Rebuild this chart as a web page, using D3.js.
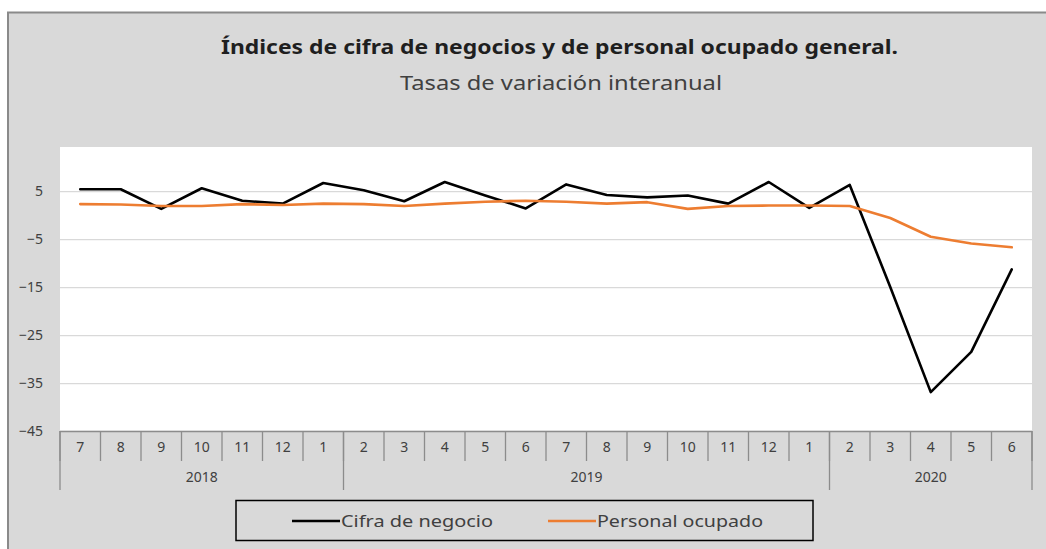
<!DOCTYPE html>
<html>
<head>
<meta charset="utf-8">
<script src="https://cdn.jsdelivr.net/npm/d3@7"></script>
<style>
  body { margin: 0; background: #fff; }
  svg { display: block; font-family: 'Noto Sans', 'DejaVu Sans', sans-serif; }
</style>
</head>
<body>
<div id="chart"></div>
<script>
// Category labels as printed under the plot (month, then year group)
const monthLabels = ['7', '8', '9', '10', '11', '12', '1', '2', '3', '4', '5', '6',
                     '7', '8', '9', '10', '11', '12', '1', '2', '3', '4', '5', '6'];
const yearLabels = ['2018', '2019', '2020'];
const yearSpans = [7, 12, 5];

// Series values (% interanual)
const cifraNegocio = [5.4, 5.4, 1.3, 5.6, 3.0, 2.4, 6.7, 5.2, 2.9, 6.9, 4.1, 1.4,
                      6.4, 4.2, 3.7, 4.1, 2.4, 6.9, 1.5, 6.3, -15.0, -36.9, -28.5, -11.3];
const personalOcupado = [2.3, 2.2, 1.9, 1.9, 2.3, 2.1, 2.4, 2.3, 1.9, 2.4, 2.8, 3.0,
                         2.8, 2.4, 2.7, 1.3, 1.9, 2.0, 2.0, 1.9, -0.6, -4.5, -5.9, -6.7];

const yTicks = [-45, -35, -25, -15, -5, 5];

const seriesNames = ['Cifra de negocio', 'Personal ocupado'];
const seriesColors = ['#000000', '#ed7d31'];

const width = 1046;
const height = 549;
const plot = { left: 60, right: 1032, top: 147, bottom: 431 };

const svg = d3.select('#chart').append('svg')
    .attr('width', width)
    .attr('height', height);

// chart area frame
svg.append('rect')
    .attr('x', 8)
    .attr('y', 12.5)
    .attr('width', width)
    .attr('height', height)
    .attr('fill', '#d9d9d9')
    .attr('stroke', '#8a8a8a')
    .attr('stroke-width', 2);

// Title
svg.append('text')
    .text('Índices de cifra de negocios y de personal ocupado general.')
    .attr('x', 221)
    .attr('y', 54)
    .attr('textLength', 677)
    .attr('lengthAdjust', 'spacingAndGlyphs')
    .style('font-size', '20px')
    .style('font-weight', 'bold')
    .style('fill', '#1f1f1f');

// Subtitle
svg.append('text')
    .text('Tasas de variación interanual')
    .attr('x', 400)
    .attr('y', 90)
    .attr('textLength', 322)
    .attr('lengthAdjust', 'spacingAndGlyphs')
    .style('font-size', '19px')
    .style('fill', '#404040');

const xScale = d3.scaleBand()
    .domain(d3.range(monthLabels.length))
    .range([plot.left, plot.right]);

const yScale = d3.scaleLinear()
    .domain([-45, 14.2])
    .range([plot.bottom, plot.top]);

// plot area
svg.append('rect')
    .attr('x', plot.left)
    .attr('y', plot.top)
    .attr('width', plot.right - plot.left)
    .attr('height', plot.bottom - plot.top)
    .attr('fill', '#ffffff');

// grid lines + y labels
const yAxis = d3.axisLeft(yScale)
    .tickValues(yTicks)
    .tickSize(-(plot.right - plot.left))
    .tickPadding(17);

const yAxisG = svg.append('g')
    .attr('transform', `translate(${plot.left}, 0)`)
    .call(yAxis);
yAxisG.select('.domain').remove();
yAxisG.selectAll('line')
    .attr('stroke', '#d9d9d9')
    .attr('stroke-width', 1.3);
yAxisG.selectAll('text')
    .style('font-family', "'Noto Sans', sans-serif")
    .style('font-size', '14px')
    .style('fill', '#404040');

// category axis: months row
const axisColor = '#8c8c8c';
const xAxisG = svg.append('g');

xAxisG.append('line')
    .attr('x1', plot.left)
    .attr('x2', plot.right)
    .attr('y1', plot.bottom + 0.5)
    .attr('y2', plot.bottom + 0.5)
    .attr('stroke', axisColor)
    .attr('stroke-width', 1.3);

xAxisG.selectAll('.month-tick')
    .data(d3.range(monthLabels.length + 1))
    .join('line')
    .attr('class', 'month-tick')
    .attr('x1', i => i < monthLabels.length ? xScale(i) : plot.right)
    .attr('x2', i => i < monthLabels.length ? xScale(i) : plot.right)
    .attr('y1', plot.bottom)
    .attr('y2', plot.bottom + 30)
    .attr('stroke', axisColor)
    .attr('stroke-width', 1.3);

xAxisG.selectAll('.month-label')
    .data(monthLabels)
    .join('text')
    .attr('class', 'month-label')
    .text(d => d)
    .attr('x', (d, i) => xScale(i) + xScale.bandwidth() / 2)
    .attr('y', plot.bottom + 21)
    .style('text-anchor', 'middle')
    .style('font-size', '14px')
    .style('fill', '#404040');

// year groups
const yearStarts = yearSpans.map((n, k) => d3.sum(yearSpans.slice(0, k)));
const groupEdges = yearStarts.concat([monthLabels.length]);

xAxisG.selectAll('.year-tick')
    .data(groupEdges)
    .join('line')
    .attr('class', 'year-tick')
    .attr('x1', i => i < monthLabels.length ? xScale(i) : plot.right)
    .attr('x2', i => i < monthLabels.length ? xScale(i) : plot.right)
    .attr('y1', plot.bottom)
    .attr('y2', plot.bottom + 59)
    .attr('stroke', axisColor)
    .attr('stroke-width', 1.3);

xAxisG.selectAll('.year-label')
    .data(yearLabels)
    .join('text')
    .attr('class', 'year-label')
    .text(d => d)
    .attr('x', (d, k) => {
      const x0 = xScale(yearStarts[k]);
      const x1 = k + 1 < yearStarts.length ? xScale(yearStarts[k + 1]) : plot.right;
      return (x0 + x1) / 2;
    })
    .attr('y', plot.bottom + 51)
    .style('text-anchor', 'middle')
    .style('font-size', '14px')
    .style('fill', '#404040');

// lines
const line = d3.line()
    .x((d, i) => xScale(i) + xScale.bandwidth() / 2)
    .y(d => yScale(d));

[cifraNegocio, personalOcupado].forEach((values, k) => {
  svg.append('path')
      .datum(values)
      .attr('d', line)
      .attr('fill', 'none')
      .attr('stroke', seriesColors[k])
      .attr('stroke-width', 2.6)
      .attr('stroke-linejoin', 'round')
      .attr('stroke-linecap', 'round');
});

// legend
const legend = svg.append('g');
legend.append('rect')
    .attr('x', 236)
    .attr('y', 500.5)
    .attr('width', 577)
    .attr('height', 40)
    .attr('fill', 'none')
    .attr('stroke', '#000')
    .attr('stroke-width', 1.5);

const legendItems = [
  { x: 292, textLen: 152 },
  { x: 548, textLen: 166 },
];
legendItems.forEach((item, k) => {
  legend.append('line')
      .attr('x1', item.x)
      .attr('x2', item.x + 48)
      .attr('y1', 521)
      .attr('y2', 521)
      .attr('stroke', seriesColors[k])
      .attr('stroke-width', 2.6);
  legend.append('text')
      .text(seriesNames[k])
      .attr('x', item.x + 49)
      .attr('y', 527)
      .attr('textLength', item.textLen)
      .attr('lengthAdjust', 'spacingAndGlyphs')
      .style('font-size', '17px')
      .style('fill', '#404040');
});
</script>
</body>
</html>
